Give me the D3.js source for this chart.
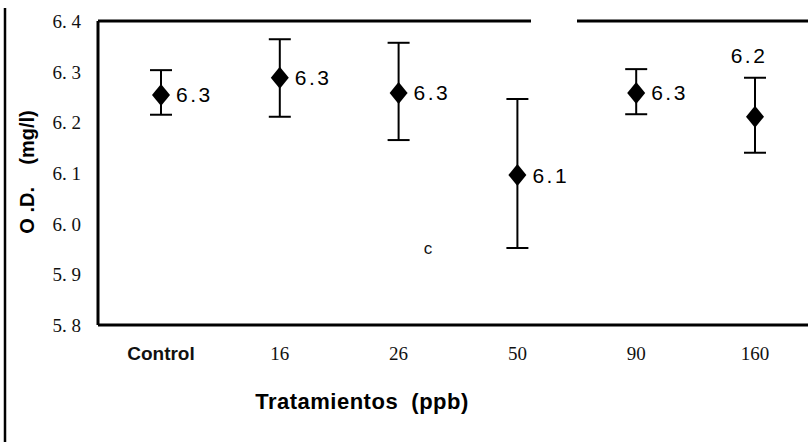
<!DOCTYPE html>
<html>
<head>
<meta charset="utf-8">
<script src="https://cdn.jsdelivr.net/npm/d3@7"></script>
<style>
  body { margin: 0; background: #fff; }
  svg { display: block; }
  text { white-space: pre; }
</style>
</head>
<body>
<div id="chart"></div>
<script>
// datos
var categories = ['Control', '16', '26', '50', '90', '160'];
var means = [6.254, 6.288, 6.258, 6.096, 6.258, 6.211];
var upper = [6.303, 6.364, 6.357, 6.246, 6.305, 6.288];
var lower = [6.215, 6.211, 6.165, 5.952, 6.216, 6.140];
var valueLabels = ['6.3', '6.3', '6.3', '6.1', '6.3', '6.2'];
var yTicks = [5.8, 5.9, 6.0, 6.1, 6.2, 6.3, 6.4];

var width = 809;
var height = 446;
var margin = {top: 21, right: 1, bottom: 121, left: 98};

var svg = d3.select('#chart').append('svg')
  .attr('width', width).attr('height', height);

var x = d3.scalePoint()
  .domain(categories)
  .range([margin.left + 63, width - 54]);

var y = d3.scaleLinear()
  .domain([5.8, 6.4])
  .range([height - margin.bottom, margin.top]);

// borde izquierdo del escaneo
svg.append('line')
  .attr('x1', 5).attr('x2', 5)
  .attr('y1', 8).attr('y2', 442)
  .attr('stroke', '#000').attr('stroke-width', 2.5);

// ejes
var axisG = svg.append('g').attr('stroke', '#000').attr('stroke-width', 3);
axisG.append('line')
  .attr('x1', margin.left).attr('x2', margin.left)
  .attr('y1', y(6.4)).attr('y2', y(5.8));
axisG.append('line')
  .attr('x1', margin.left).attr('x2', width - margin.right)
  .attr('y1', y(5.8)).attr('y2', y(5.8));
// borde superior (con hueco)
axisG.append('line')
  .attr('x1', margin.left).attr('x2', 531)
  .attr('y1', y(6.4)).attr('y2', y(6.4));
axisG.append('line')
  .attr('x1', 577).attr('x2', width - margin.right)
  .attr('y1', y(6.4)).attr('y2', y(6.4));

// etiquetas eje y
svg.append('g').selectAll('text')
  .data(yTicks)
  .enter().append('text')
  .attr('x', 81)
  .attr('y', function(d) { return y(d) + 7; })
  .attr('text-anchor', 'end')
  .attr('font-family', 'Liberation Serif, serif')
  .attr('font-size', 19)
  .attr('fill', '#111')
  .text(function(d) { return d.toFixed(1).replace('.', '. '); });

// etiquetas eje x
svg.append('g').selectAll('text')
  .data(categories)
  .enter().append('text')
  .attr('x', function(d) { return x(d); })
  .attr('y', 360)
  .attr('text-anchor', 'middle')
  .attr('font-family', function(d, i) {
    return i === 0 ? 'Liberation Sans Narrow, Liberation Sans, Arial, sans-serif' : 'Liberation Serif, serif';
  })
  .attr('font-weight', function(d, i) { return i === 0 ? 'bold' : 'normal'; })
  .attr('font-size', 19)
  .attr('fill', '#111')
  .text(function(d) { return d; });

// titulo eje x
svg.append('text')
  .attr('x', 362).attr('y', 409)
  .attr('text-anchor', 'middle')
  .attr('font-family', 'Liberation Sans, Arial, sans-serif')
  .attr('font-weight', 'bold')
  .attr('font-size', 22)
  .attr('letter-spacing', 0.5)
  .attr('fill', '#000')
  .text('Tratamientos  (ppb)');

// titulo eje y
svg.append('text')
  .attr('transform', 'translate(34,172) rotate(-90)')
  .attr('text-anchor', 'middle')
  .attr('font-family', 'Liberation Sans, Arial, sans-serif')
  .attr('font-weight', 'bold')
  .attr('font-size', 20)
  .attr('fill', '#000')
  .text('O .D.    (mg/l)');

// marca suelta del escaneo
svg.append('text')
  .attr('x', 428).attr('y', 254)
  .attr('text-anchor', 'middle')
  .attr('font-family', 'Liberation Sans, Arial, sans-serif')
  .attr('font-size', 17)
  .attr('fill', '#111')
  .text('c');

// barras de error
var capW = 11;
var errG = svg.append('g').attr('stroke', '#000').attr('stroke-width', 2);
categories.forEach(function(c, i) {
  errG.append('line')
    .attr('x1', x(c)).attr('x2', x(c))
    .attr('y1', y(upper[i])).attr('y2', y(lower[i]));
  errG.append('line')
    .attr('x1', x(c) - capW).attr('x2', x(c) + capW)
    .attr('y1', y(upper[i])).attr('y2', y(upper[i]));
  errG.append('line')
    .attr('x1', x(c) - capW).attr('x2', x(c) + capW)
    .attr('y1', y(lower[i])).attr('y2', y(lower[i]));
});

// rombos
function diamond(cx, cy) {
  var p = d3.path();
  p.moveTo(cx, cy - 11);
  p.lineTo(cx + 9, cy);
  p.lineTo(cx, cy + 11);
  p.lineTo(cx - 9, cy);
  p.closePath();
  return p.toString();
}
svg.append('g').selectAll('path')
  .data(means)
  .enter().append('path')
  .attr('d', function(d, i) { return diamond(x(categories[i]), y(d)); })
  .attr('fill', '#000');

// etiquetas de valor
svg.append('g').selectAll('text')
  .data(valueLabels)
  .enter().append('text')
  .attr('x', function(d, i) {
    return i === 5 ? x(categories[i]) - 6 : x(categories[i]) + 15;
  })
  .attr('y', function(d, i) {
    if (i === 5) { return y(upper[i]) - 15; }
    if (i === 3) { return y(means[i]) + 8; }
    return y(means[i]) + 7;
  })
  .attr('text-anchor', function(d, i) { return i === 5 ? 'middle' : 'start'; })
  .attr('font-family', 'Liberation Sans, Arial, sans-serif')
  .attr('font-size', 21)
  .attr('letter-spacing', 2.5)
  .attr('fill', '#000')
  .text(function(d) { return d; });
</script>
</body>
</html>
